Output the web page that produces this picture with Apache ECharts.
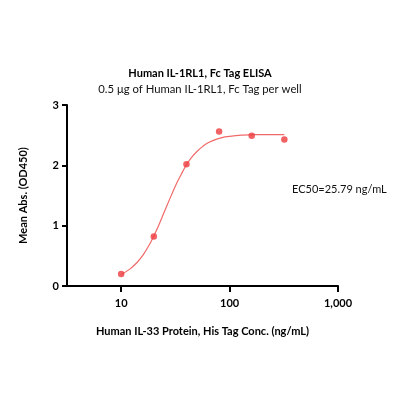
<!DOCTYPE html>
<html>
<head>
<meta charset="utf-8">
<script src="https://cdn.jsdelivr.net/npm/echarts@6/dist/echarts.min.js"></script>
<style>
  html, body { margin: 0; padding: 0; background: #fff; }
  #chart { width: 400px; height: 400px; }
</style>
</head>
<body>
<div id="chart"></div>
<script>
// measured points (ng/mL vs OD450)
const concs = [10, 20, 40, 80, 160, 320];
const means = [0.20, 0.82, 2.02, 2.56, 2.49, 2.43];

// fitted curve
const fitX = [10, 12, 14, 16, 18, 20, 22, 25, 28, 32, 36, 40, 45, 50, 60, 70, 85, 100, 130, 170, 230, 320];
const fitY = [0.19, 0.28, 0.39, 0.52, 0.67, 0.83, 0.99, 1.23, 1.44, 1.68, 1.86, 2.01, 2.14, 2.23, 2.35, 2.41, 2.46, 2.48, 2.50, 2.51, 2.51, 2.51];

const xTicks = [10, 100, 1000];
const yTicks = [0, 1, 2, 3];

const titleText = "Human IL-1RL1, Fc Tag ELISA";
const subText = "0.5 μg of Human IL-1RL1, Fc Tag per well";
const ec50Text = "EC50=25.79 ng/mL";

const font = "Lato";
const red = "#ee3b3f";

const chart = echarts.init(document.getElementById("chart"));

chart.setOption({
    animation: false,
    title: {
        text: titleText,
        subtext: subText,
        left: "center",
        top: 63,
        itemGap: 5,
        textStyle: { fontFamily: font, fontSize: 11, fontWeight: "bold", color: "#000" },
        subtextStyle: { fontFamily: font, fontSize: 11.3, color: "#111" }
    },
    grid: { left: 67, right: 62, top: 105, bottom: 114 },
    xAxis: {
        type: "log",
        logBase: 10,
        min: 3.1623,
        max: 1000,
        name: "Human IL-33 Protein, His Tag Conc. (ng/mL)",
        nameLocation: "middle",
        nameGap: 40,
        nameTextStyle: { fontFamily: font, fontSize: 11, fontWeight: "bold", color: "#000" },
        axisLine: { lineStyle: { color: "#000", width: 2 } },
        axisTick: { show: true, length: 6, customValues: xTicks, lineStyle: { color: "#000", width: 2 } },
        axisLabel: {
            customValues: xTicks,
            margin: 12,
            fontFamily: font,
            fontSize: 11,
            fontWeight: "bold",
            color: "#000",
            formatter: (v) => Number(v).toLocaleString("en-US")
        },
        splitLine: { show: false },
        minorTick: { show: false }
    },
    yAxis: {
        type: "value",
        min: 0,
        max: 3,
        interval: 1,
        name: "Mean Abs. (OD450)",
        nameLocation: "middle",
        nameGap: 38,
        nameTextStyle: { fontFamily: font, fontSize: 11, fontWeight: "bold", color: "#000" },
        axisLine: { show: true, lineStyle: { color: "#000", width: 2 } },
        axisTick: { show: true, length: 5, lineStyle: { color: "#000", width: 2 } },
        axisLabel: {
            margin: 8,
            fontFamily: font,
            fontSize: 11,
            fontWeight: "bold",
            color: "#000",
            formatter: (v) => (yTicks.includes(v) ? String(v) : "")
        },
        splitLine: { show: false }
    },
    series: [
        {
            name: "fit",
            type: "line",
            data: fitX.map((x, i) => [x, fitY[i]]),
            smooth: 0.3,
            showSymbol: false,
            lineStyle: { color: "#f06a6a", width: 1.2 },
            z: 2
        },
        {
            name: "mean",
            type: "scatter",
            data: concs.map((x, i) => [x, means[i]]),
            symbol: "circle",
            symbolSize: 6.5,
            itemStyle: { color: red },
            z: 3
        }
    ],
    graphic: [
        {
            type: "text",
            left: 292,
            top: 184,
            style: { text: ec50Text, fontFamily: font, fontSize: 11, fill: "#111" }
        }
    ]
});
</script>
</body>
</html>
